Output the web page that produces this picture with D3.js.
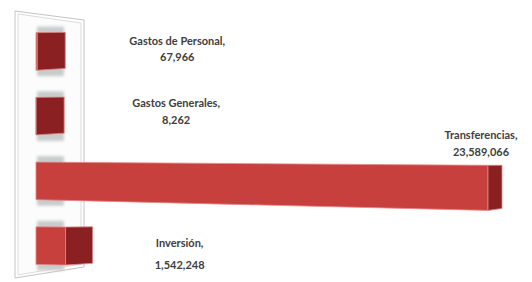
<!DOCTYPE html>
<html>
<head>
<meta charset="utf-8">
<script src="https://cdn.jsdelivr.net/npm/d3@7"></script>
<style>
  body { margin: 0; background: #fff; }
  svg { display: block; }
</style>
</head>
<body>
<svg id="chart" width="532" height="282"></svg>
<script>
// data
var categories = ["Gastos de Personal", "Gastos Generales", "Transferencias", "Inversión"];
var values = [67966, 8262, 23589066, 1542248];

// label anchor relative to the end cap of each bar, and line gap (layout only)
var labelDx = [112, 112, -21, 87];
var labelDy = [-6, -9, -42, 1];
var labelGap = [16, 17, 17, 22];

var width = 532, height = 282;
var svg = d3.select("#chart");

var x = d3.scaleLinear()
    .domain([0, d3.max(values)])
    .range([36, 488]);

var y = d3.scaleBand()
    .domain(categories)
    .range([19, 278])
    .paddingInner(0.42)
    .paddingOuter(0.21);

var fmt = d3.format(",");

// rough perspective: bars get taller / lower toward the right,
// and the depth (end cap) gets narrower
function proj(v, yy, z, cy) {
    var xf = x(v);
    var t = (xf - x.range()[0]) / (x.range()[1] - x.range()[0]);
    var s = 1 + 0.2 * t;
    var px = xf + z * 28 * (1 - 0.5 * t);
    var py = cy + 7 * t + (yy - cy) * s * (1 - 0.04 * z) - 1 * z;
    return [px, py];
}
function pts(arr) {
    return arr.map(function (p) { return p.join(","); }).join(" ");
}

var defs = svg.append("defs");
defs.append("filter").attr("id", "blur")
    .append("feGaussianBlur").attr("stdDeviation", 1.6);

// back wall
svg.append("polygon")
    .attr("points", pts([[15, 11], [84, 20], [84, 267], [15, 278]]))
    .attr("fill", "#fff")
    .attr("stroke", "#c4c4c4")
    .attr("stroke-width", 1);
svg.append("polygon")
    .attr("points", pts([[18, 14], [81, 23], [81, 264], [18, 275]]))
    .attr("fill", "#fcfcfc")
    .attr("stroke", "#dcdcdc")
    .attr("stroke-width", 1);

var g = svg.append("g");

categories.forEach(function (c, i) {
    var v = values[i];
    var y0 = y(c), y1 = y(c) + y.bandwidth(), cy = (y0 + y1) / 2;

    // soft shadow on the wall behind the bar
    g.append("rect")
        .attr("x", x(0) + 1)
        .attr("y", y0 - 6)
        .attr("width", 27)
        .attr("height", y1 - y0 + 12)
        .attr("fill", "#c9cccc")
        .attr("filter", "url(#blur)");

    var a = proj(0, y0, 0, cy), b = proj(v, y0, 0, cy),
        cB = proj(v, y1, 0, cy), d = proj(0, y1, 0, cy);
    var e = proj(v, y0, 1, cy), f = proj(v, y1, 1, cy);

    // front face
    g.append("polygon")
        .attr("points", pts([a, b, cB, d]))
        .attr("fill", "#c8403e")
        .attr("stroke", "#e58a86")
        .attr("stroke-width", 0.8);

    // end cap
    g.append("polygon")
        .attr("points", pts([b, e, f, cB]))
        .attr("fill", "#8b2023")
        .attr("stroke", "#d98a88")
        .attr("stroke-width", 0.8);

    // data label
    var lx = e[0] + labelDx[i];
    var ly = cy + labelDy[i];
    var t = g.append("text")
        .attr("x", lx)
        .attr("y", ly)
        .attr("text-anchor", "middle")
        .attr("font-family", "Lato, 'Open Sans', sans-serif")
        .attr("font-weight", "bold")
        .attr("font-size", 11)
        .attr("fill", "#404040");
    t.append("tspan").attr("x", lx).text(c + ",");
    t.append("tspan").attr("x", lx).attr("dy", labelGap[i]).text(fmt(v));
});
</script>
</body>
</html>
